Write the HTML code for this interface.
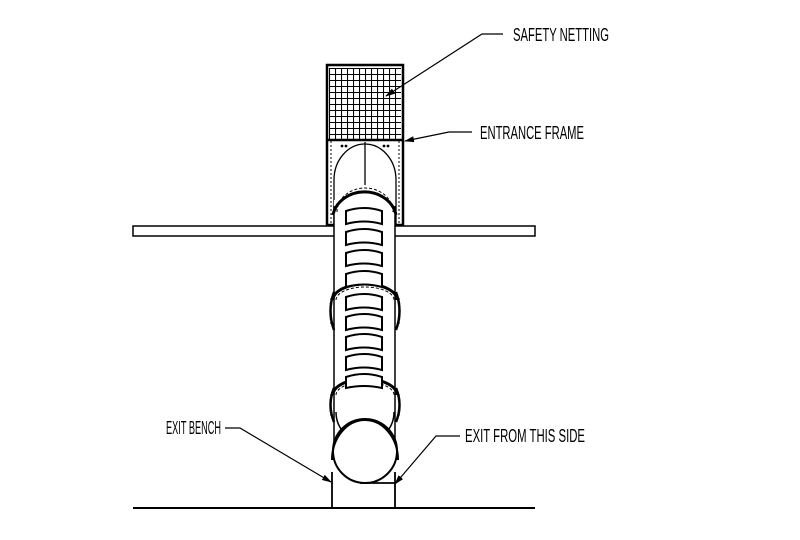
<!DOCTYPE html>
<html><head><style>html,body{margin:0;padding:0;background:#fff}</style></head>
<body>
<svg width="800" height="535" viewBox="0 0 800 535" xmlns="http://www.w3.org/2000/svg">
<defs>
<pattern id="g" x="329" y="68" width="6" height="6" patternUnits="userSpaceOnUse">
<path d="M0 0.5H6M0.5 0V6" stroke="#000" stroke-width="1.1"/>
</pattern>
<marker id="a" markerWidth="10" markerHeight="6" refX="9" refY="3" orient="auto" markerUnits="userSpaceOnUse">
<path d="M0 0L10 3L0 6Z" fill="#000"/></marker>
</defs>
<g fill="none" stroke="#000" stroke-width="1.5">
<rect x="133" y="226" width="402" height="10" fill="#fff"/>
<rect x="327" y="65" width="76" height="160" stroke-width="2.5" fill="#fff"/>
<rect x="329" y="68" width="72" height="71" fill="url(#g)" stroke="none"/>
<line x1="327" y1="140" x2="403" y2="140" stroke-width="2.5"/>
<path d="M331 141V224M399 141V224" stroke-dasharray="2 2" stroke-width="1"/>
<path d="M334 225V180A31 36 0 0 1 396 180V225" stroke-width="1.3"/>
<line x1="365" y1="142" x2="365" y2="185" stroke-width="1.3"/>
<g fill="#000" stroke="none"><circle cx="342" cy="146" r="1.4"/><circle cx="346" cy="146" r="1.4"/><circle cx="384" cy="146" r="1.4"/><circle cx="388" cy="146" r="1.4"/></g>
<rect x="334" y="200" width="61" height="255" fill="#fff" stroke="none"/>
<path d="M334 206V455M395 206V455"/>
<path d="M333 215A32 28 0 0 1 396 215" stroke-width="3" fill="#fff"/>
<path d="M337 212A28 24 0 0 1 393 212" stroke-dasharray="3 2" stroke-width="1"/>
<path d="M333 300A32 16 0 0 1 397 300" stroke-width="3"/>
<path d="M336 300A29 13 0 0 1 394 300" stroke-dasharray="3 2" stroke-width="1"/>
<path d="M334 292Q327 311 334 330M396 292Q403 311 396 330" stroke-width="2.5"/>
<path d="M331 298Q329 311 331 324M399 298Q401 311 399 324" stroke-dasharray="2 2" stroke-width="1"/>
<path d="M333 395A32 16 0 0 1 397 395" stroke-width="3"/>
<path d="M336 395A29 13 0 0 1 394 395" stroke-dasharray="3 2" stroke-width="1"/>
<path d="M334 388Q327 405 334 422M396 388Q403 405 396 422" stroke-width="2.5"/>
<path d="M331 394Q329 405 331 416M399 394Q401 405 399 416" stroke-dasharray="2 2" stroke-width="1"/>
<g stroke-width="2" fill="#fff">
<path d="M346 211Q364 205 382 211V224Q364 219 346 224Z"/>
<path d="M346 232Q364 226 382 232V245Q364 240 346 245Z"/>
<path d="M346 253Q364 247 382 253V266Q364 261 346 266Z"/>
<path d="M346 274Q364 268 382 274V287Q364 282 346 287Z"/>
<path d="M346 297Q364 291 382 297V310Q364 305 346 310Z"/>
<path d="M346 317Q364 311 382 317V330Q364 325 346 330Z"/>
<path d="M346 337Q364 331 382 337V350Q364 345 346 350Z"/>
<path d="M346 357Q364 351 382 357V370Q364 365 346 370Z"/>
<path d="M346 377Q364 371 382 377V388Q364 384 346 388Z"/>
</g>
<path d="M336 412A29 30 0 0 0 394 412" stroke-width="1.5"/>
<circle cx="365" cy="451" r="32" stroke-width="2" fill="#fff"/>
<path d="M332 460A33 40 0 0 1 398 460" stroke-width="2"/>
<path d="M332 472V508M395 472V508M360 483H395" stroke-width="1.8"/>
<line x1="133" y1="508" x2="535" y2="508" stroke-width="2"/>
<g stroke-width="1.2">
<polyline points="503,34 482,34 386,96" marker-end="url(#a)"/>
<polyline points="472,132 449,132 405,141" marker-end="url(#a)"/>
<polyline points="225,428 240,428 331,482" marker-end="url(#a)"/>
<polyline points="460,436 436,436 395,484" marker-end="url(#a)"/>
</g>
</g>
<g font-family="Liberation Sans, sans-serif" font-size="18" fill="#000">
<text x="513" y="41" textLength="96" lengthAdjust="spacingAndGlyphs">SAFETY NETTING</text>
<text x="480" y="139" textLength="104" lengthAdjust="spacingAndGlyphs">ENTRANCE FRAME</text>
<text x="166" y="434" textLength="55" lengthAdjust="spacingAndGlyphs">EXIT BENCH</text>
<text x="465" y="442" textLength="120" lengthAdjust="spacingAndGlyphs">EXIT FROM THIS SIDE</text>
</g>
</svg>
</body></html>
